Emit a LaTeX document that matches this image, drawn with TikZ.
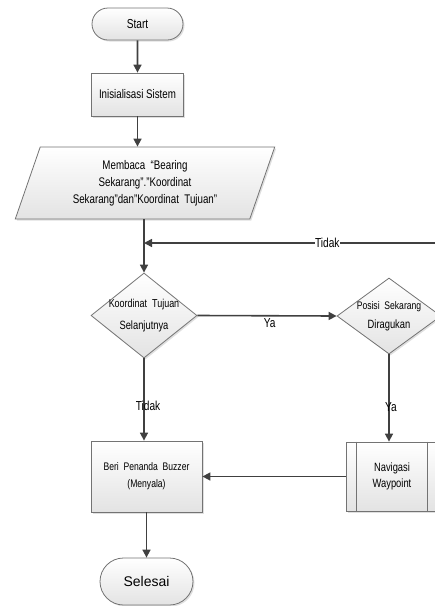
\documentclass[tikz,border=0pt]{standalone}
\usepackage{fontspec}
\setmainfont{Liberation Sans}
\newfontfamily\narrowfont[FakeStretch=0.78]{Liberation Sans}
\usetikzlibrary{shapes.geometric,shapes.misc,arrows.meta,shadows}
\tikzset{
  base/.style={draw=black!55, line width=0.8pt, top color=white, bottom color=black!11,
    drop shadow={shadow xshift=1.5pt, shadow yshift=-1.5pt, opacity=0.25},
    align=center, inner sep=0pt},
  term/.style={base, rounded rectangle, minimum width=91pt, minimum height=32pt},
  proc/.style={base, rectangle},
  dec/.style={base, diamond},
  iobox/.style={base, trapezium, trapezium left angle=69.4, trapezium right angle=110.6,
    trapezium stretches=true},
  conn/.style={draw=black!75, line width=1.6pt, -{Triangle[length=8pt,width=8pt]}},
  lbl/.style={fill=white, inner sep=0.5pt, font=\narrowfont\fontsize{13}{15}\selectfont},
  txt/.style={font=\narrowfont\fontsize{12.5}{17}\selectfont, align=center},
  dtxt/.style={font=\narrowfont\fontsize{11.5}{14}\selectfont, align=center}
}
\begin{document}
\begin{tikzpicture}[x=1pt,y=-1pt]
\useasboundingbox (0,0) rectangle (435,606);
\clip (0,0) rectangle (435,606);

% nodes
\node[term, font=\narrowfont\fontsize{13}{15}\selectfont] (start) at (137.5,24) {Start};
\node[proc, txt, minimum width=92pt, minimum height=43pt] (init) at (137.5,94.5) {Inisialisasi Sistem};

\node[iobox, txt, minimum width=260pt, minimum height=72pt] (par) at (145,183)
  {Membaca \ “Bearing\\Sekarang”.”Koordinat\\Sekarang”dan”Koordinat \ Tujuan”};

\node[dec, minimum width=106pt, minimum height=85pt,
  label={[dtxt]center:Koordinat \ Tujuan\\[8pt]{\fontsize{12}{14}\selectfont Selanjutnya}}] (d1) at (144,315.5) {};
\node[dec, minimum width=104pt, minimum height=76pt,
  label={[dtxt, font=\narrowfont\fontsize{11}{13}\selectfont]center:Posisi \ Sekarang\\[6pt]{\fontsize{12}{14}\selectfont Diragukan}}] (d2) at (389,316) {};

\node[proc, minimum width=111pt, minimum height=71pt,
  font=\narrowfont\fontsize{11}{17}\selectfont] (beri) at (146.5,476.5) {Beri \ Penanda \ Buzzer\\(Menyala)};
\node[proc, minimum width=92pt, minimum height=69pt,
  font=\narrowfont\fontsize{12}{16}\selectfont] (nav) at (392,476.5) {Navigasi\\Waypoint};
\draw[draw=black!55, line width=0.8pt] ([xshift=11pt]nav.north west) -- ([xshift=11pt]nav.south west);
\draw[draw=black!55, line width=0.8pt] ([xshift=-11pt]nav.north east) -- ([xshift=-11pt]nav.south east);

\node[term, minimum width=93pt, minimum height=47pt, font=\fontsize{14}{16}\selectfont] (sel) at (146.5,581.5) {Selesai};

% connectors
\coordinate (j) at (144,243);
\coordinate (loopA) at (460,316);
\coordinate (loopB) at (460,243);
\draw[conn] (start) -- (init);
\draw[conn] (init.south) -- (init.south |- par.north);
\draw[conn] (d1.north |- par.south) -- (d1.north);
\draw[conn] (d2.east) -- (loopA) -- (loopB) -- node[lbl, pos=0.42] {Tidak} (j);
\draw[conn] (d1.east) -- node[lbl, pos=0.52, below=1pt, fill=none] {Ya} (d2.west);
\draw[conn] (d1.south) -- node[lbl, pos=0.58, xshift=4pt, fill=none] {Tidak} (d1.south |- beri.north);
\draw[conn] (d2.south) -- node[lbl, pos=0.6, xshift=2pt, fill=none] {Ya} (d2.south |- nav.north);
\draw[conn] (nav.west) -- (beri.east);
\draw[conn] (beri.south) -- (sel.north);
\end{tikzpicture}
\end{document}
